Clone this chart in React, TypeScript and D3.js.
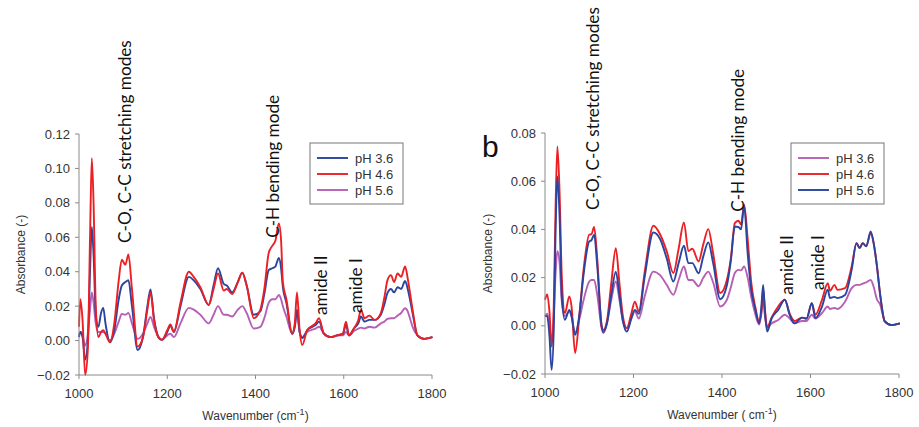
import * as d3 from "d3";

// ---- panel a (left) ----
const wnA = [
  1000, 1003, 1008, 1014, 1020, 1025, 1029, 1033, 1038, 1044,
  1050, 1055, 1060, 1070, 1080, 1090, 1097, 1105, 1112, 1120,
  1133, 1145, 1155, 1162, 1170, 1180, 1188, 1200, 1207, 1215,
  1230, 1249, 1260, 1275, 1294, 1305, 1315, 1328, 1335, 1347,
  1360, 1370, 1380, 1396, 1411, 1420, 1430, 1438, 1445, 1453,
  1458, 1462, 1470, 1483, 1489, 1494, 1500, 1506, 1517, 1536,
  1544, 1555, 1570, 1585, 1598, 1605, 1612, 1623, 1633, 1639,
  1647, 1658, 1670, 1684, 1692, 1699, 1707, 1714, 1722, 1730,
  1739, 1745, 1750, 1756, 1767, 1782, 1801,
];
const aPH36 = [
  0.002, 0.005, 0.002, -0.011, 0.0, 0.04, 0.066, 0.05, 0.015, 0.008,
  0.016, 0.019, 0.01, -0.001, 0.006, 0.024, 0.032, 0.034, 0.035, 0.02,
  -0.0055, 0.002, 0.02, 0.0297, 0.013, 0.002, 0.0004, 0.005, 0.0087, 0.005,
  0.02, 0.037, 0.035, 0.03, 0.0207, 0.032, 0.042, 0.033, 0.032, 0.028,
  0.034, 0.0395, 0.032, 0.015, 0.017, 0.027, 0.041, 0.042, 0.043, 0.048,
  0.042, 0.031, 0.022, 0.004, 0.008, 0.018, 0.005, 0.0015, 0.006, 0.009,
  0.011, 0.004, 0.002, 0.003, 0.004, 0.009, 0.003, 0.007, 0.01, 0.014,
  0.011, 0.012, 0.012, 0.015, 0.021, 0.0275, 0.03, 0.028, 0.031, 0.03,
  0.0346, 0.03, 0.024, 0.016, 0.003, 0.001, 0.002,
];
const aPH46 = [
  0.008, 0.024, 0.012, -0.02, -0.005, 0.06, 0.106, 0.08, 0.02, 0.002,
  0.005, 0.006, 0.004, -0.001, 0.01, 0.035, 0.047, 0.044, 0.05, 0.03,
  -0.0035, 0.002, 0.018, 0.028, 0.012, 0.002, 0.0004, 0.006, 0.0094, 0.005,
  0.022, 0.04, 0.037, 0.031, 0.0207, 0.03, 0.039, 0.029, 0.03, 0.027,
  0.034, 0.0395, 0.032, 0.013, 0.018, 0.03, 0.051, 0.055, 0.058, 0.068,
  0.058, 0.034, 0.024, 0.004, 0.01, 0.028, 0.006, -0.0026, 0.006, 0.01,
  0.013, 0.004, 0.002, 0.003, 0.004, 0.011, 0.003, 0.007, 0.012, 0.018,
  0.013, 0.0145, 0.012, 0.016, 0.025, 0.035, 0.038, 0.034, 0.039, 0.037,
  0.043, 0.036, 0.028, 0.018, 0.003, 0.001, 0.002,
];
const aPH56 = [
  0.003, 0.005, 0.003, -0.003, 0.004, 0.018, 0.028, 0.022, 0.01, 0.005,
  0.005, 0.005, 0.004, 0.0, 0.004, 0.011, 0.0155, 0.015, 0.016, 0.01,
  0.001, 0.004, 0.01, 0.0137, 0.008, 0.002, 0.0004, 0.003, 0.004, 0.002,
  0.01, 0.019, 0.018, 0.015, 0.01, 0.015, 0.02, 0.015, 0.015, 0.014,
  0.018, 0.02, 0.016, 0.007, 0.008, 0.013, 0.022, 0.024, 0.024, 0.0265,
  0.024, 0.02, 0.014, 0.004, 0.008, 0.016, 0.005, 0.002, 0.005, 0.007,
  0.008, 0.004, 0.002, 0.003, 0.003, 0.005, 0.003, 0.0055, 0.007, 0.0075,
  0.007, 0.008, 0.0075, 0.01, 0.011, 0.0126, 0.013, 0.013, 0.0145, 0.016,
  0.0188, 0.017, 0.013, 0.008, 0.003, 0.001, 0.002,
];

// ---- panel b (right) ----
const wnB = [
  1000, 1005, 1010, 1015, 1020, 1024, 1028, 1033, 1038, 1045,
  1055, 1060, 1068, 1078, 1087, 1100, 1105, 1111, 1118, 1128,
  1132, 1140, 1150, 1160, 1168, 1176, 1185, 1195, 1203, 1212,
  1225, 1245, 1260, 1275, 1290, 1302, 1314, 1324, 1333, 1347,
  1358, 1369, 1380, 1396, 1411, 1420, 1429, 1437, 1443, 1450,
  1458, 1466, 1475, 1484, 1489, 1493, 1497, 1502, 1512, 1527,
  1542, 1553, 1564, 1581, 1591, 1603, 1611, 1626, 1639, 1644,
  1654, 1661, 1678, 1693, 1704, 1711, 1718, 1726, 1736, 1743,
  1750, 1757, 1768, 1783, 1802,
];
const bPH36 = [
  0.004, 0.005, 0.0, -0.006, 0.005, 0.022, 0.031, 0.026, 0.01, 0.004,
  0.006, 0.004, -0.003, 0.003, 0.0105, 0.0184, 0.019, 0.019, 0.013, -0.001,
  -0.003, 0.001, 0.011, 0.0184, 0.011, 0.002, -0.001, 0.003, 0.006, 0.003,
  0.012, 0.0225, 0.021, 0.017, 0.0129, 0.019, 0.0246, 0.019, 0.019, 0.0164,
  0.02, 0.0225, 0.018, 0.008, 0.0108, 0.016, 0.0219, 0.0232, 0.023, 0.0246,
  0.02, 0.012, 0.005, 0.0005, 0.005, 0.0108, 0.004, -0.0007, 0.001, 0.0024,
  0.0046, 0.003, 0.001, 0.002, 0.002, 0.0046, 0.003, 0.0053, 0.008, 0.007,
  0.0074, 0.007, 0.01, 0.0156, 0.017, 0.017, 0.0175, 0.018, 0.019, 0.016,
  0.011, 0.009, 0.0018, 0.0003, 0.001,
];
const bPH46 = [
  0.0108, 0.013, 0.006, -0.0086, 0.01, 0.05, 0.0744, 0.055, 0.02, 0.0053,
  0.0122, 0.008, -0.0113, 0.005, 0.023, 0.0378, 0.038, 0.041, 0.028, -0.0003,
  -0.0017, 0.002, 0.018, 0.0322, 0.018, 0.004, -0.001, 0.005, 0.01, 0.006,
  0.022, 0.0415, 0.038, 0.031, 0.0219, 0.032, 0.0429, 0.031, 0.032, 0.0267,
  0.034, 0.0401, 0.03, 0.0136, 0.019, 0.028, 0.0426, 0.0436, 0.042, 0.0502,
  0.036, 0.018, 0.008, 0.0018, 0.006, 0.015, 0.007, -0.0007, 0.0034, 0.008,
  0.0108, 0.005, 0.002, 0.0034, 0.003, 0.0094, 0.0046, 0.0108, 0.0177, 0.0145,
  0.017, 0.0149, 0.0156, 0.0246, 0.0343, 0.0323, 0.0343, 0.033, 0.0385, 0.034,
  0.025, 0.0136, 0.0018, 0.0003, 0.001,
];
const bPH56 = [
  0.004, 0.004, -0.004, -0.0183, 0.0, 0.04, 0.062, 0.045, 0.012, 0.0025,
  0.0066, 0.004, -0.0037, 0.005, 0.021, 0.035, 0.0355, 0.0378, 0.025, 0.0,
  -0.0025, 0.001, 0.013, 0.0225, 0.013, 0.002, -0.0024, 0.003, 0.0066, 0.005,
  0.02, 0.0387, 0.036, 0.028, 0.0184, 0.026, 0.0332, 0.026, 0.026, 0.0218,
  0.029, 0.0346, 0.026, 0.011, 0.0167, 0.027, 0.0412, 0.041, 0.04, 0.0498,
  0.03, 0.015, 0.007, 0.001, 0.008, 0.017, 0.006, -0.0024, 0.003, 0.0066,
  0.0108, 0.0045, 0.001, 0.0034, 0.003, 0.0094, 0.0032, 0.008, 0.015, 0.0115,
  0.012, 0.0115, 0.0128, 0.0232, 0.0343, 0.0323, 0.0343, 0.033, 0.0391, 0.034,
  0.025, 0.0136, 0.0018, 0.0003, 0.001,
];

const xTicks = [1000, 1200, 1400, 1600, 1800];
const yTicksA = [-0.02, 0, 0.02, 0.04, 0.06, 0.08, 0.1, 0.12];
const yTicksB = [-0.02, 0, 0.02, 0.04, 0.06, 0.08];
const seriesNames = ["pH 3.6", "pH 4.6", "pH 5.6"];

const BLUE = "#2a44a0";
const RED = "#ec2024";
const PURPLE = "#b65fb5";
const AXIS = "#8a8a8a";
const TXT = "#333";
const labelFont = "Lato, 'Open Sans', sans-serif";
const tickFont = "'Liberation Sans', Arial, sans-serif";

type Series = { name: string; values: number[]; color: string };
type Note = { text: string; wn: number; v: number };

function Panel({
  left, right, top, bottom, yTicks, wn, series, drawOrder, notes,
  legendX, legendY, ylabelX, xlabel, tag,
}: {
  left: number; right: number; top: number; bottom: number;
  yTicks: number[]; wn: number[]; series: Series[]; drawOrder: number[];
  notes: Note[]; legendX: number; legendY: number; ylabelX: number;
  xlabel: [string, string]; tag?: string;
}) {
  const x = d3.scaleLinear().domain([1000, 1800]).range([left, right]);
  const y = d3.scaleLinear().domain(d3.extent(yTicks) as [number, number]).range([bottom, top]);
  const line = d3
    .line<number>()
    .x((_, i) => x(wn[i]))
    .y((d) => y(d))
    .curve(d3.curveMonotoneX);
  const fmt = d3.format(".2f");
  const cx = (left + right) / 2;
  const cy = (top + bottom) / 2;

  return (
    <g>
      {drawOrder.map((k) => (
        <path key={k} d={line(series[k].values) || ""} fill="none"
          stroke={series[k].color} strokeWidth={1.9} strokeLinejoin="round" />
      ))}
      <line x1={left} x2={left} y1={top} y2={bottom} stroke={AXIS} strokeWidth={1} />
      <line x1={left} x2={right} y1={bottom} y2={bottom} stroke={AXIS} strokeWidth={1} />
      {yTicks.map((t) => (
        <g key={t}>
          <line x1={left - 4} x2={left} y1={y(t)} y2={y(t)} stroke={AXIS} />
          <text x={left - 9} y={y(t)} dy="0.35em" textAnchor="end"
            fontFamily={tickFont} fontSize={13} fill={TXT}>{fmt(t)}</text>
        </g>
      ))}
      {xTicks.map((t) => (
        <g key={t}>
          <line x1={x(t)} x2={x(t)} y1={bottom} y2={bottom + 4} stroke={AXIS} />
          <text x={x(t)} y={bottom + 23} textAnchor="middle"
            fontFamily={tickFont} fontSize={13} fill={TXT}>{t}</text>
        </g>
      ))}
      <text transform={`translate(${ylabelX},${cy}) rotate(-90)`} textAnchor="middle"
        dy="0.35em" fontFamily={tickFont} fontSize={12} fill={TXT}>Absorbance (-)</text>
      <text x={cx} y={bottom + 45} textAnchor="middle" fontFamily={tickFont}
        fontSize={12} fill={TXT}>
        {xlabel[0]}<tspan dy={-5} fontSize={9}>-1</tspan><tspan dy={5}>{xlabel[1]}</tspan>
      </text>
      {notes.map((n) => (
        <text key={n.text} transform={`translate(${x(n.wn)},${y(n.v)}) rotate(-90)`}
          dy="0.35em" fontFamily={labelFont} fontSize={17.2} fill="#111">{n.text}</text>
      ))}
      <rect x={legendX} y={legendY} width={93} height={61} fill="#fff" stroke="#777" strokeWidth={1} />
      {series.map((s, i) => (
        <g key={s.name} transform={`translate(${legendX},${legendY + 15 + i * 16})`}>
          <line x1={7} x2={38} y1={0} y2={0} stroke={s.color} strokeWidth={1.9} />
          <text x={45} y={0} dy="0.35em" fontFamily={tickFont} fontSize={13} fill={TXT}>{s.name}</text>
        </g>
      ))}
      {tag && (
        <text x={left - 63} y={top + 24} fontFamily={tickFont} fontSize={30} fill="#111">{tag}</text>
      )}
    </g>
  );
}

export default function App() {
  const seriesA: Series[] = [
    { name: seriesNames[0], values: aPH36, color: BLUE },
    { name: seriesNames[1], values: aPH46, color: RED },
    { name: seriesNames[2], values: aPH56, color: PURPLE },
  ];
  const seriesB: Series[] = [
    { name: seriesNames[0], values: bPH36, color: PURPLE },
    { name: seriesNames[1], values: bPH46, color: RED },
    { name: seriesNames[2], values: bPH56, color: BLUE },
  ];
  const notesA: Note[] = [
    { text: "C-O, C-C stretching modes", wn: 1104, v: 0.0567 },
    { text: "C-H bending mode", wn: 1439, v: 0.0597 },
    { text: "amide II", wn: 1548, v: 0.0149 },
    { text: "amide I", wn: 1627, v: 0.016 },
  ];
  const notesB: Note[] = [
    { text: "C-O, C-C stretching modes", wn: 1108, v: 0.0481 },
    { text: "C-H bending mode", wn: 1436, v: 0.0473 },
    { text: "amide II", wn: 1547, v: 0.0129 },
    { text: "amide I", wn: 1617, v: 0.0149 },
  ];
  return (
    <svg width={919} height={427} style={{ position: "absolute", left: 0, top: 0, background: "#fff" }}>
      <Panel left={79} right={432} top={134} bottom={375} yTicks={yTicksA} wn={wnA}
        series={seriesA} drawOrder={[2, 0, 1]} notes={notesA} legendX={310} legendY={143}
        ylabelX={21} xlabel={["Wavenumber (cm", ")"]} />
      <Panel left={545} right={899} top={133} bottom={374} yTicks={yTicksB} wn={wnB}
        series={seriesB} drawOrder={[0, 1, 2]} notes={notesB} legendX={791} legendY={143}
        ylabelX={488} xlabel={["Wavenumber ( cm", ")"]} tag="b" />
    </svg>
  );
}
